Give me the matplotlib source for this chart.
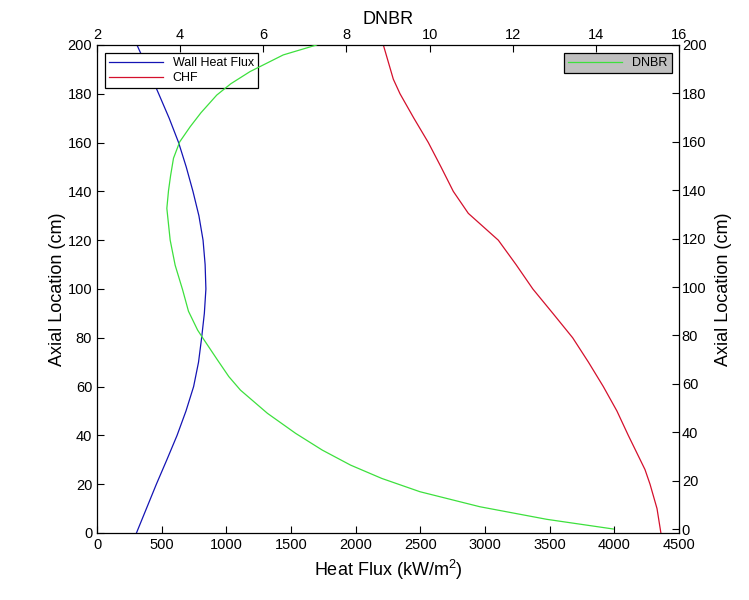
"""Wall heat flux, CHF and DNBR along the axial location"""
import matplotlib
matplotlib.use('Agg')
import matplotlib.pyplot as plt

plt.rcParams['font.family'] = ['Liberation Sans', 'DejaVu Sans']
plt.rcParams['mathtext.fontset'] = 'custom'
plt.rcParams['mathtext.rm'] = 'Liberation Sans'
plt.rcParams['mathtext.it'] = 'Liberation Sans:italic'

# ---- data ----
z_q = [0, 10, 20, 30, 40, 50, 60, 70, 80, 90, 100,
       110, 120, 130, 140, 150, 160, 170, 180, 190, 200]
wall_q = [305, 382, 459, 540, 619, 688, 747, 785, 809, 830, 842,
          836, 820, 788, 742, 690, 631, 558, 477, 395, 309]

z_chf = [0, 10, 20, 26, 40, 50, 60, 70, 80, 90, 100,
         110, 120, 131, 140, 150, 160, 170, 180, 186, 200]
chf = [4360, 4330, 4276, 4237, 4108, 4020, 3915, 3800, 3678, 3525, 3370,
       3240, 3103, 2871, 2755, 2660, 2562, 2450, 2343, 2291, 2214]

z_dnbr = [0, 4, 9.2, 15.4, 20.9, 26.4, 32.6, 39.5, 47.8, 57.4, 63, 69.8,
          78.8, 82.2, 90, 98.8, 109, 119.4, 132.5, 139.8, 146, 153.2,
          160, 166.2, 172, 179.3, 184, 189, 195.9, 200]
dnbr = [14.42, 12.82, 11.21, 9.77, 8.85, 8.10, 7.42, 6.78, 6.10, 5.45, 5.17, 4.90,
        4.55, 4.42, 4.20, 4.06, 3.88, 3.76, 3.68, 3.72, 3.77, 3.84,
        3.99, 4.24, 4.50, 4.88, 5.22, 5.68, 6.48, 7.28]

W, H = 749, 600
fig = plt.figure(figsize=(W / 100, H / 100), dpi=100)
rect = [97 / W, (H - 533) / H, 582 / W, 488 / H]

ax = fig.add_axes(rect)
ax.plot(wall_q, z_q, color='#1414b4', lw=0.9, label='Wall Heat Flux')
ax.plot(chf, z_chf, color='#d4102c', lw=0.9, label='CHF')
ax.set_xlim(0, 4500)
ax.set_ylim(0, 200)
ax.set_xticks(range(0, 4501, 500))
ax.set_yticks(range(0, 201, 20))
ax.tick_params(direction='in', length=5, labelsize=10.5, top=False, right=False)
ax.set_xlabel('Heat Flux (kW/m$^2$)', fontsize=13)
ax.set_ylabel('Axial Location (cm)', fontsize=13, labelpad=1)
for s in ax.spines.values():
    s.set_linewidth(0.9)
leg = ax.legend(loc='upper left', fontsize=9, fancybox=False, framealpha=1,
                edgecolor='black', borderaxespad=0.6, handlelength=4.3,
                handletextpad=0.8, borderpad=0.35, labelspacing=0.25)
leg.get_frame().set_linewidth(0.9)

# ---- DNBR on the top/right axes ----
ax2 = fig.add_axes(rect, frameon=False)
ax2.plot(dnbr, z_dnbr, color='#3de03d', lw=0.9, label='DNBR')
ax2.set_xlim(2, 16)
ax2.set_ylim(-1.65, 200)
ax2.xaxis.tick_top()
ax2.xaxis.set_label_position('top')
ax2.yaxis.tick_right()
ax2.yaxis.set_label_position('right')
ax2.set_xticks(range(2, 17, 2))
ax2.set_yticks(range(0, 201, 20))
ax2.tick_params(direction='in', length=5, labelsize=10.5, pad=2)
ax2.set_xlabel('DNBR', fontsize=13, labelpad=3)
ax2.set_ylabel('Axial Location (cm)', fontsize=13, labelpad=6)
leg2 = ax2.legend(loc='upper right', fontsize=9, fancybox=False, framealpha=1,
                  facecolor='#c0c0c0', edgecolor='black', borderaxespad=0.6,
                  handlelength=4.3, handletextpad=0.8, borderpad=0.35)
leg2.get_frame().set_linewidth(0.9)

fig.savefig('out.png', dpi=100)
